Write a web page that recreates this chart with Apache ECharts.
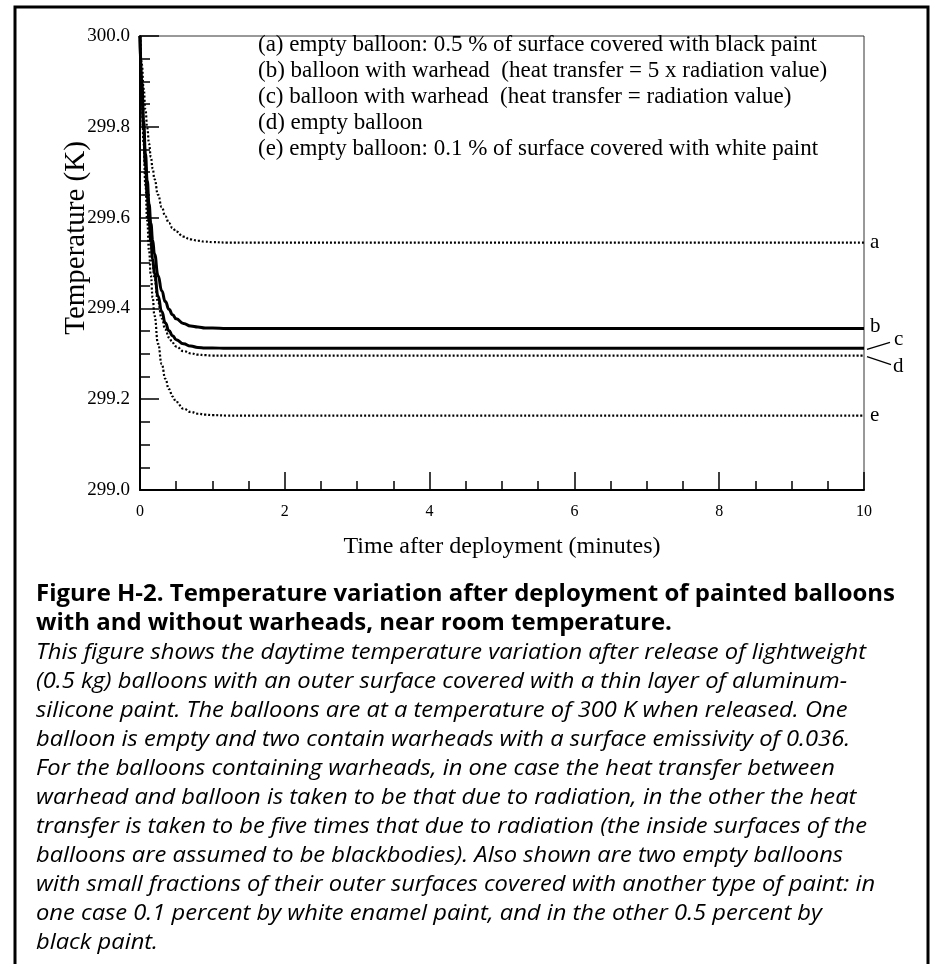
<!DOCTYPE html>
<html>
<head>
<meta charset="utf-8">
<script src="https://cdn.jsdelivr.net/npm/echarts@6/dist/echarts.min.js"></script>
<style>
html,body{margin:0;padding:0;background:#fff;}
#chart{width:932px;height:964px;}
</style>
</head>
<body>
<div id="chart"></div>
<script>
// ---- data ----
const times  = [0, 0.025, 0.05, 0.075, 0.1, 0.125, 0.15, 0.175, 0.2, 0.25, 0.3, 0.35, 0.4, 0.45, 0.5, 0.6, 0.7, 0.8, 0.9, 1.0, 1.2, 1.5, 10];
const curveA = [300, 299.938, 299.884, 299.838, 299.798, 299.763, 299.733, 299.708, 299.685, 299.650, 299.623, 299.603, 299.588, 299.577, 299.569, 299.558, 299.552, 299.549, 299.547, 299.546, 299.545, 299.545, 299.545];
const curveB = [300, 299.899, 299.813, 299.741, 299.681, 299.630, 299.587, 299.550, 299.520, 299.472, 299.439, 299.415, 299.398, 299.386, 299.377, 299.367, 299.361, 299.359, 299.357, 299.357, 299.356, 299.356, 299.356];
const curveC = [300, 299.887, 299.793, 299.715, 299.649, 299.594, 299.548, 299.509, 299.477, 299.427, 299.393, 299.368, 299.351, 299.340, 299.331, 299.322, 299.317, 299.314, 299.313, 299.313, 299.312, 299.312, 299.312];
const curveD = [300, 299.885, 299.789, 299.708, 299.641, 299.584, 299.537, 299.498, 299.465, 299.414, 299.378, 299.354, 299.336, 299.324, 299.316, 299.306, 299.301, 299.298, 299.297, 299.296, 299.296, 299.296, 299.296];
const curveE = [300, 299.872, 299.763, 299.671, 299.593, 299.527, 299.472, 299.424, 299.384, 299.322, 299.277, 299.245, 299.222, 299.206, 299.194, 299.179, 299.172, 299.168, 299.166, 299.165, 299.164, 299.164, 299.164];
const curveNames = ['a', 'b', 'c', 'd', 'e'];

const legendLines = [
  '(a) empty balloon: 0.5 % of surface covered with black paint',
  '(b) balloon with warhead  (heat transfer = 5 x radiation value)',
  '(c) balloon with warhead  (heat transfer = radiation value)',
  '(d) empty balloon',
  '(e) empty balloon: 0.1 % of surface covered with white paint'
];
const xTitle = 'Time after deployment (minutes)';
const yTitle = 'Temperature (K)';
const captionTitle = [
  'Figure H-2. Temperature variation after deployment of painted balloons',
  'with and without warheads, near room temperature.'
];
const captionBody = [
  'This figure shows the daytime temperature variation after release of lightweight',
  '(0.5 kg) balloons with an outer surface covered with a thin layer of aluminum-',
  'silicone paint. The balloons are at a temperature of 300 K when released. One',
  'balloon is empty and two contain warheads with a surface emissivity of 0.036.',
  'For the balloons containing warheads, in one case the heat transfer between',
  'warhead and balloon is taken to be that due to radiation, in the other the heat',
  'transfer is taken to be five times that due to radiation (the inside surfaces of the',
  'balloons are assumed to be blackbodies). Also shown are two empty balloons',
  'with small fractions of their outer surfaces covered with another type of paint: in',
  'one case 0.1 percent by white enamel paint, and in the other 0.5 percent by',
  'black paint.'
];

// ---- build ----
const serif = "'Liberation Serif', 'Times New Roman', serif";
const sans = "'Open Sans', 'Noto Sans', sans-serif";
function pairs(ys){ return times.map((t,i)=>[t, ys[i]]); }
function fitScale(text, font, target){
  const c = document.createElement('canvas').getContext('2d');
  c.font = font;
  return target / c.measureText(text).width;
}

const chart = echarts.init(document.getElementById('chart'), null, {renderer:'canvas'});
const dotted = {color:'#000', width:2.2, type:[2,2]};
const solid = {color:'#000', width:3};
const styles = [dotted, solid, solid, dotted, dotted];
const allCurves = [curveA, curveB, curveC, curveD, curveE];

const option = {
  animation:false,
  backgroundColor:'#fff',
  grid:{left:140, top:36, width:724, height:454, show:true, borderColor:'#333', borderWidth:1, containLabel:false},
  xAxis:{
    type:'value', min:0, max:10, interval:2,
    name:xTitle, nameLocation:'middle', nameGap:45,
    nameTextStyle:{fontFamily:serif, fontSize:24, color:'#000'},
    axisLine:{show:true, lineStyle:{color:'#000', width:2}},
    axisTick:{show:true, inside:true, length:18, lineStyle:{color:'#000', width:1.5}},
    minorTick:{show:true, splitNumber:4, length:9, lineStyle:{color:'#000', width:1.5}},
    splitLine:{show:false},
    axisLabel:{fontFamily:serif, fontSize:16, color:'#000', margin:14}
  },
  yAxis:{
    type:'value', min:299, max:300, interval:0.2,
    axisLine:{show:true, lineStyle:{color:'#000', width:2}},
    axisTick:{show:true, inside:true, length:19, lineStyle:{color:'#000', width:1.5}},
    minorTick:{show:true, splitNumber:4, length:10, lineStyle:{color:'#000', width:1.5}},
    splitLine:{show:false},
    axisLabel:{fontFamily:serif, fontSize:19, color:'#000', margin:10, formatter:v=>v.toFixed(1)}
  },
  series: allCurves.map((ys,i)=>({
    name:curveNames[i], type:'line', data:pairs(ys), showSymbol:false, symbol:'none',
    smooth:0.5, smoothMonotone:'x', lineStyle:styles[i], z:3
  }))
};
chart.setOption(option);

// annotations positioned from data via the chart's own scale
const px = (x,y)=>chart.convertToPixel({gridIndex:0}, [x,y]);
const endVals = allCurves.map(c=>c[c.length-1]);
const ends = endVals.map(v=>px(10, v));
const g = [];
// outer frame
g.push({type:'rect', shape:{x:15, y:7, width:913, height:1000}, style:{fill:'none', stroke:'#000', lineWidth:3}, silent:true});
// y title
g.push({type:'text', x:76, y:238, rotation:Math.PI/2, style:{text:yTitle, font:'29px '+serif, fill:'#000', align:'center', verticalAlign:'middle'}});
// legend block
legendLines.forEach((s,i)=>{
  g.push({type:'text', x:258, y:45+i*26, style:{text:s, font:'23px '+serif, fill:'#000', align:'left', verticalAlign:'middle'}});
});
// curve end labels
const lab = (t,x,y)=>g.push({type:'text', x:x, y:y, style:{text:t, font:'21px '+serif, fill:'#000', align:'left', verticalAlign:'middle'}});
lab('a', ends[0][0]+6, ends[0][1]);
lab('b', ends[1][0]+6, ends[1][1]-2);
lab('c', ends[2][0]+30, ends[2][1]-9);
lab('d', ends[3][0]+29, ends[3][1]+11);
lab('e', ends[4][0]+6, ends[4][1]);
g.push({type:'line', shape:{x1:ends[2][0]+3, y1:ends[2][1]+1, x2:ends[2][0]+26, y2:ends[2][1]-6}, style:{stroke:'#000', lineWidth:1.3}});
g.push({type:'line', shape:{x1:ends[3][0]+3, y1:ends[3][1]+1, x2:ends[3][0]+27, y2:ends[3][1]+9}, style:{stroke:'#000', lineWidth:1.3}});
// caption
const titleFont = 'bold 23px '+sans;
const tScale = fitScale(captionTitle[0], titleFont, 859);
captionTitle.forEach((s,i)=>{
  g.push({type:'text', x:36, y:594+i*29, scaleX:tScale, style:{text:s, font:titleFont, fill:'#000', align:'left', verticalAlign:'middle'}});
});
const bodyFont = 'italic 21px '+sans;
const bScale = fitScale(captionBody[0], bodyFont, 830);
captionBody.forEach((s,i)=>{
  g.push({type:'text', x:36, y:653+i*29, scaleX:bScale, style:{text:s, font:bodyFont, fill:'#000', align:'left', verticalAlign:'middle'}});
});
chart.setOption({graphic:g});
</script>
</body>
</html>
